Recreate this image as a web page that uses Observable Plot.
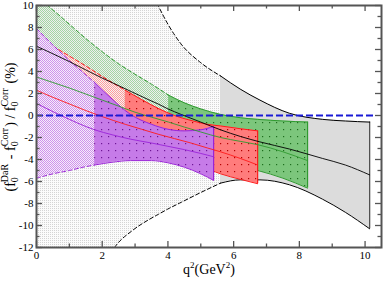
<!DOCTYPE html>
<html><head><meta charset="utf-8">
<script src="https://cdn.jsdelivr.net/npm/d3@7"></script>
<script src="https://cdn.jsdelivr.net/npm/@observablehq/plot@0.6"></script>
<style>body{margin:0;background:#fff;} svg{display:block}</style>
</head><body><div id="chart"></div>
<script>
// ---- data ----
const envQ     = [0, 1, 2, 2.4, 2.9, 3.4, 3.7, 4.0, 4.4, 5.0, 5.6, 6.2, 6.8, 7.7, 8.7, 9.4, 10.14];
const envUpper = [42, 32, 22, 19, 15, 11.8, 10.0, 8.3, 6.5, 4.8, 3.6, 2.4, 1.4, 0.2, -0.35, -0.5, -0.6];
const envLower = [-32, -22, -14, -11.9, -10.5, -9.5, -9.0, -8.5, -7.9, -7.0, -6.15, -5.85, -5.85, -6.3, -7.6, -8.8, -10.3];
const envMid   = [6.3, 4.9, 3.4, 2.85, 2.15, 1.45, 1.05, 0.6, 0.1, -0.6, -1.3, -1.9, -2.4, -3.05, -3.9, -4.5, -5.4];
const envSplit = 5.6;

const greenQ     = [0, 0.5, 1, 1.5, 2, 2.5, 3, 3.5, 4.02, 4.5, 5, 5.6, 6.2, 6.73, 7.5, 8.25];
const greenUpper = [10.8, 9.6, 8.3, 7.0, 5.8, 4.7, 3.75, 2.85, 1.85, 1.15, 0.6, 0.1, -0.2, -0.35, -0.5, -0.6];
const greenLower = [-3.0, -3.0, -3.0, -3.1, -3.1, -3.2, -3.3, -3.45, -3.6, -3.8, -4.0, -4.3, -4.65, -5.0, -5.7, -6.6];
const greenMid   = [3.5, 3.0, 2.5, 1.95, 1.4, 0.85, 0.3, -0.15, -0.6, -1.05, -1.5, -2.0, -2.35, -2.65, -3.3, -4.1];
const greenSplit = 4.02;

const redQ     = [0, 0.5, 1, 1.5, 2, 2.7, 3.2, 3.7, 4.2, 4.7, 5.2, 5.6, 6.2, 6.73];
const redUpper = [7.2, 6.3, 5.4, 4.5, 3.55, 2.3, 1.45, 0.65, 0.0, -0.45, -0.8, -0.95, -1.2, -1.4];
const redLower = [-3.0, -3.05, -3.1, -3.2, -3.3, -3.5, -3.6, -3.8, -4.0, -4.35, -4.85, -5.3, -5.8, -6.2];
const redMid   = [2.3, 1.65, 1.05, 0.45, -0.1, -0.8, -1.25, -1.7, -2.1, -2.5, -2.95, -3.3, -3.9, -4.5];
const redSplit = 2.7;

const purpleQ     = [0, 0.5, 1, 1.5, 1.77, 2.3, 2.86, 3.5, 4.0, 4.5, 5.0, 5.39];
const purpleUpper = [7.9, 6.4, 5.0, 3.7, 3.0, 1.5, 0.1, -0.8, -1.25, -1.4, -1.3, -1.0];
const purpleLower = [-5.7, -5.3, -5.0, -4.65, -4.5, -4.25, -4.1, -4.1, -4.3, -4.7, -5.3, -5.9];
const purpleMid   = [1.1, 0.35, -0.35, -1.0, -1.3, -1.75, -2.15, -2.5, -2.8, -3.1, -3.45, -3.75];
const purpleSplit = 1.77;

const zeroLine = [{y: 0, x1: 0, x2: 10.3}];

const xMajor = [0, 2, 4, 6, 8, 10];
const xMinor = [1, 3, 5, 7, 9];
const yMajor = [-12, -10, -8, -6, -4, -2, 0, 2, 4, 6, 8, 10];
const yMinor = [-11, -9, -7, -5, -3, -1, 1, 3, 5, 7, 9];

// ---- build tables ----
const rows = (qs, up, lo, mid) => qs.map((q, i) => ({q, up: up[i], lo: lo[i], mid: mid[i]}));
const bands = [
  {rows: rows(envQ, envUpper, envLower, envMid), split: envSplit, stip: "url(#stGray)", solid: "#dcdcdc", line: "#000000", edge: "#444"},
  {rows: rows(greenQ, greenUpper, greenLower, greenMid), split: greenSplit, stip: "url(#stGreen)", solid: "url(#dtGreen)", line: "#2f9a2f", edge: "#2f9a2f"},
  {rows: rows(redQ, redUpper, redLower, redMid), split: redSplit, stip: "url(#stRed)", solid: "url(#dtRed)", line: "#ff1a1a", edge: "#ff1a1a"},
  {rows: rows(purpleQ, purpleUpper, purpleLower, purpleMid), split: purpleSplit, stip: "url(#stPurple)", solid: "url(#dtPurple)", line: "#9a22d8", edge: "#9a22d8"}
];

const curve = "monotone-x";
const layers = [], mids = [];
for (const b of bands) {
  layers.push(Plot.areaY(b.rows, {filter: d => d.q <= b.split, x: "q", y1: "lo", y2: "up", fill: b.stip, curve, clip: true}));
  layers.push(Plot.areaY(b.rows, {filter: d => d.q >= b.split, x: "q", y1: "lo", y2: "up", fill: b.solid, curve, clip: true}));
  layers.push(Plot.ruleX(b.rows.slice(-1), {x: "q", y1: "lo", y2: "up", stroke: b.edge, strokeWidth: 1.2}));
  for (const key of ["up", "lo"]) {
    layers.push(Plot.line(b.rows, {filter: d => d.q <= b.split, x: "q", y: key, stroke: b.line, strokeWidth: 1, strokeDasharray: "4,2.5", curve, clip: true}));
    layers.push(Plot.line(b.rows, {filter: d => d.q >= b.split, x: "q", y: key, stroke: b.line, strokeWidth: 1, curve, clip: true}));
  }
  mids.push(Plot.line(b.rows, {x: "q", y: "mid", stroke: b.line, strokeWidth: 0.9, curve, clip: true}));
}

const PH = 281 - 5 - 34, PW = 387 - 36 - 6;
const axisColor = "#555";
const chart = Plot.plot({
  width: 387, height: 281,
  marginLeft: 36, marginRight: 6, marginTop: 5, marginBottom: 34,
  style: {background: "white", fontFamily: "'Liberation Serif', 'Times New Roman', serif", fontSize: "11px", color: "#000"},
  x: {domain: [0, 10.5], ticks: xMajor, tickSize: 0, tickPadding: 4, tickFormat: d => String(d), label: null},
  y: {domain: [-12, 10], ticks: yMajor, tickSize: 0, tickPadding: 3, tickFormat: d => String(d), label: null},
  marks: [
    ...layers,
    ...mids,
    Plot.ruleY(zeroLine, {y: "y", x1: "x1", x2: "x2", stroke: "#1a1ad6", strokeWidth: 2, strokeDasharray: "7,3"}),
    // ticks inside the frame
    Plot.tickX(xMajor, {x: d => d, insetTop: PH - 6, stroke: axisColor, strokeWidth: 1.3}),
    Plot.tickX(xMinor, {x: d => d, insetTop: PH - 3.5, stroke: axisColor, strokeWidth: 1.3}),
    Plot.tickX(xMajor, {x: d => d, insetBottom: PH - 6, stroke: axisColor, strokeWidth: 1.3}),
    Plot.tickX(xMinor, {x: d => d, insetBottom: PH - 3.5, stroke: axisColor, strokeWidth: 1.3}),
    Plot.tickY(yMajor, {y: d => d, insetRight: PW - 6, stroke: axisColor, strokeWidth: 1.3}),
    Plot.tickY(yMinor, {y: d => d, insetRight: PW - 3.5, stroke: axisColor, strokeWidth: 1.3}),
    Plot.tickY(yMajor, {y: d => d, insetLeft: PW - 6, stroke: axisColor, strokeWidth: 1.3}),
    Plot.tickY(yMinor, {y: d => d, insetLeft: PW - 3.5, stroke: axisColor, strokeWidth: 1.3}),
    Plot.frame({stroke: axisColor, strokeWidth: 2})
  ]
});

// ---- patterns ----
const svg = d3.select(chart);
const defs = svg.insert("defs", ":first-child");
function checker(id, c1, c2, full) {
  const p = defs.append("pattern").attr("id", id).attr("patternUnits", "userSpaceOnUse").attr("width", 2).attr("height", 2);
  p.append("rect").attr("width", 2).attr("height", 2).attr("fill", c2);
  p.append("rect").attr("width", 1).attr("height", 1).attr("fill", c1);
  if (full) p.append("rect").attr("x", 1).attr("y", 1).attr("width", 1).attr("height", 1).attr("fill", c1);
}
function dotted(id, bg, dot) {
  const p = defs.append("pattern").attr("id", id).attr("patternUnits", "userSpaceOnUse").attr("width", 7).attr("height", 7);
  p.append("rect").attr("width", 7).attr("height", 7).attr("fill", bg);
  p.append("rect").attr("x", 3).attr("y", 3).attr("width", 1.2).attr("height", 1.2).attr("fill", dot);
}
checker("stGray", "#d4d4d4", "#fbfbfb", false);
checker("stGreen", "#a3d6a3", "#eeeeee", true);
checker("stRed", "#ff9a9a", "#f4f4f4", true);
checker("stPurple", "#cf92ec", "#f6eefa", true);
dotted("dtGreen", "#7cc67c", "#1d6e1d");
dotted("dtRed", "#ff7c7c", "#b30000");
dotted("dtPurple", "#c67be8", "#6e1596");

// ---- axis titles ----
const serif = "'Liberation Serif', 'Times New Roman', serif";
const yl = svg.append("text").attr("transform", "translate(15,127) rotate(-90)")
  .attr("text-anchor", "middle").attr("font-family", serif).attr("font-size", 14).attr("fill", "#000");
function fsub(t, supText, lead) {
  t.append("tspan").text(lead + "f");
  t.append("tspan").attr("font-size", 10).attr("dy", 3).text("0");
  t.append("tspan").attr("font-size", 10).attr("dx", -5).attr("dy", -10).text(supText);
  t.append("tspan").attr("dy", 7).text("\u200A");
}
fsub(yl, "DaR", "(");
yl.append("tspan").text(" - ");
fsub(yl, "Corr", "");
yl.append("tspan").text(") / ");
fsub(yl, "Corr", "");
yl.append("tspan").text(" (%)");

const xl = svg.append("text").attr("x", 209).attr("y", 274).attr("text-anchor", "middle")
  .attr("font-family", serif).attr("font-size", 14).attr("fill", "#000");
xl.append("tspan").text("q");
xl.append("tspan").attr("font-size", 9).attr("dy", -6).text("2");
xl.append("tspan").attr("dy", 6).text("(GeV");
xl.append("tspan").attr("font-size", 9).attr("dy", -6).text("2");
xl.append("tspan").attr("dy", 6).text(")");

document.getElementById("chart").appendChild(chart);
</script>
</body></html>
